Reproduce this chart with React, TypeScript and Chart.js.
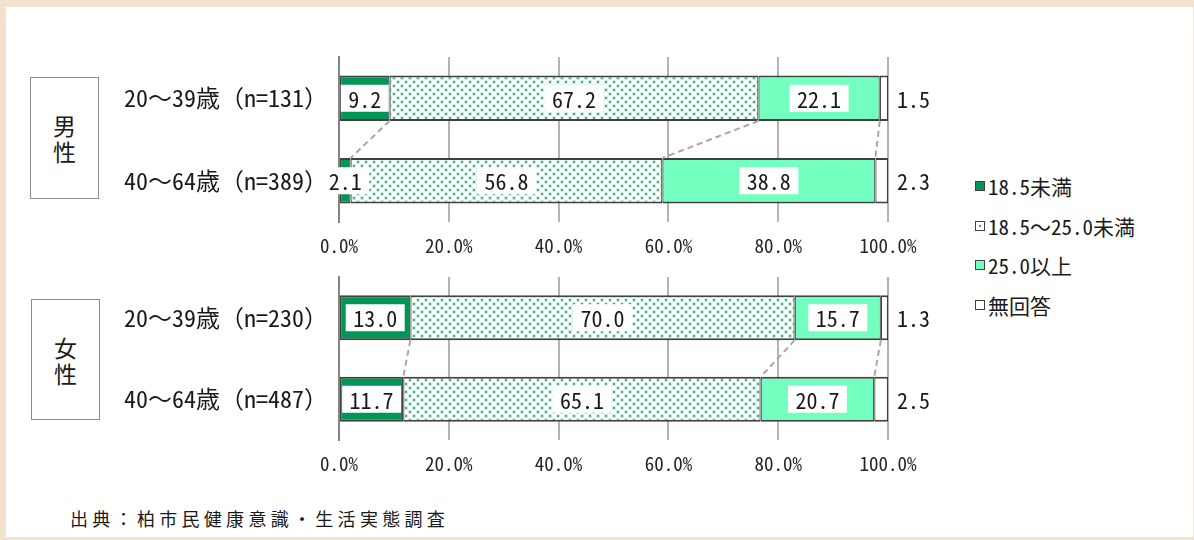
import React, { useEffect, useRef } from 'react';
import { Chart, registerables } from 'chart.js';

Chart.register(...registerables);

// ---- data -------------------------------------------------------------
const SERIES_NAMES = ['18.5未満', '18.5〜25.0未満', '25.0以上', '無回答'];

const MALE_AGES = ['20〜39歳（n=131）', '40〜64歳（n=389）'];
const MALE_UNDER = [9.2, 2.1];
const MALE_NORMAL = [67.2, 56.8];
const MALE_OVER = [22.1, 38.8];
const MALE_NO_ANSWER = [1.5, 2.3];

const FEMALE_AGES = ['20〜39歳（n=230）', '40〜64歳（n=487）'];
const FEMALE_UNDER = [13.0, 11.7];
const FEMALE_NORMAL = [70.0, 65.1];
const FEMALE_OVER = [15.7, 20.7];
const FEMALE_NO_ANSWER = [1.3, 2.5];

const X_TICKS = [0, 20, 40, 60, 80, 100];

const SOURCE_NOTE = '出典：柏市民健康意識・生活実態調査';

// ---- styling ----------------------------------------------------------
const FONT = "'Noto Sans Mono CJK JP', 'Noto Sans CJK JP', sans-serif";
const BEIGE = '#F1E3CD';
const DARK_GREEN = '#009656';
const MINT = '#72FFC0';
const BAR_EDGE = '#404040';
const TEXT = '#1a1a1a';

function dotPattern(): CanvasPattern | string {
  const c = document.createElement('canvas');
  c.width = 8;
  c.height = 8;
  const g = c.getContext('2d');
  if (!g) return '#d8f3e6';
  g.fillStyle = '#ffffff';
  g.fillRect(0, 0, 8, 8);
  const dot = (x: number, y: number) => {
    g.fillStyle = 'rgba(60,175,130,0.22)';
    g.fillRect(x - 1, y - 1, 4, 4);
    g.fillStyle = 'rgba(40,165,115,0.85)';
    g.fillRect(x, y, 2, 2);
  };
  dot(1, 1);
  dot(5, 5);
  return g.createPattern(c, 'repeat') || '#d8f3e6';
}

// dashed connectors between stacked bars + value labels
const segmentLabels = {
  id: 'segmentLabels',
  afterDatasetsDraw(chart: any) {
    const { ctx, chartArea } = chart;
    const n = chart.data.datasets.length;
    ctx.save();
    ctx.setLineDash([6, 4]);
    ctx.strokeStyle = '#a8a8a8';
    ctx.lineWidth = 2;
    for (let k = 0; k < n - 1; k++) {
      const meta = chart.getDatasetMeta(k);
      const a = meta.data[0];
      const b = meta.data[1];
      ctx.beginPath();
      ctx.moveTo(a.x, a.y + a.height / 2);
      ctx.lineTo(b.x, b.y - b.height / 2);
      ctx.stroke();
    }
    ctx.setLineDash([]);
    ctx.font = `22px ${FONT}`;
    ctx.textBaseline = 'middle';
    chart.data.datasets.forEach((ds: any, i: number) => {
      const meta = chart.getDatasetMeta(i);
      meta.data.forEach((bar: any, j: number) => {
        const txt = (ds.data[j] as number).toFixed(1);
        if (i === n - 1) {
          ctx.textAlign = 'left';
          ctx.fillStyle = TEXT;
          ctx.fillText(txt, chartArea.right + 9, bar.y + 1);
          return;
        }
        const cx = (bar.x + bar.base) / 2;
        const w = ctx.measureText(txt).width + 15;
        ctx.fillStyle = '#ffffff';
        ctx.fillRect(cx - w / 2, bar.y - 13.5, w, 27);
        ctx.textAlign = 'center';
        ctx.fillStyle = TEXT;
        ctx.fillText(txt, cx, bar.y + 1);
      });
    });
    ctx.restore();
  },
};

function StackedChart(props: {
  ages: string[];
  series: number[][];
  top: number;
  height: number;
  padTop: number;
  axisHeight: number;
}) {
  const ref = useRef<HTMLCanvasElement | null>(null);
  useEffect(() => {
    if (!ref.current) return;
    const fills = [DARK_GREEN, dotPattern(), MINT, '#ffffff'];
    const chart = new Chart(ref.current, {
      type: 'bar',
      data: {
        labels: props.ages,
        datasets: props.series.map((vals, i) => ({
          label: SERIES_NAMES[i],
          data: vals,
          backgroundColor: fills[i] as any,
          borderColor: BAR_EDGE,
          borderWidth: { top: 2, bottom: 2, left: 1.2, right: 1.2 },
          borderSkipped: false,
          barPercentage: 0.55,
          categoryPercentage: 1,
        })),
      },
      options: {
        indexAxis: 'y',
        animation: false,
        responsive: false,
        maintainAspectRatio: false,
        layout: { padding: { top: props.padTop, right: 72, left: 0, bottom: 0 } },
        plugins: { legend: { display: false }, tooltip: { enabled: false } },
        scales: {
          x: {
            stacked: true,
            min: 0,
            max: 100,
            afterBuildTicks: (scale: any) => {
              scale.ticks = X_TICKS.map((v) => ({ value: v }));
            },
            afterFit: (scale: any) => {
              scale.height = props.axisHeight;
              scale.paddingLeft = 0;
              scale.paddingRight = 0;
            },
            ticks: {
              padding: 12,
              color: '#262626',
              font: { family: FONT, size: 19 },
              callback: (v: any) => `${Number(v).toFixed(1)}%`,
              maxRotation: 0,
            },
            grid: { color: '#b3b3b3', lineWidth: 2, drawTicks: false },
            border: { display: false },
          },
          y: {
            stacked: true,
            afterFit: (scale: any) => {
              scale.width = 239;
              scale.paddingTop = 0;
              scale.paddingBottom = 0;
            },
            ticks: {
              padding: 11,
              color: TEXT,
              font: { family: FONT, size: 24 },
            },
            grid: { display: false, drawTicks: false },
            border: { display: true, color: '#858585', width: 2 },
          },
        },
      },
      plugins: [segmentLabels],
    });
    return () => chart.destroy();
  }, []);
  return (
    <canvas
      ref={ref}
      width={860}
      height={props.height}
      style={{ position: 'absolute', left: 100, top: props.top, width: 860, height: props.height }}
    />
  );
}

function GroupBox(props: { text: string; left: number; top: number; width: number; height: number }) {
  return (
    <div
      style={{
        position: 'absolute',
        left: props.left,
        top: props.top,
        width: props.width,
        height: props.height,
        border: '1.5px solid #8c8c8c',
        boxSizing: 'border-box',
        display: 'flex',
        flexDirection: 'column',
        alignItems: 'center',
        justifyContent: 'center',
        fontFamily: FONT,
        fontSize: 23,
        lineHeight: '26px',
        color: TEXT,
      }}
    >
      {props.text.split('').map((ch, i) => (
        <span key={i}>{ch}</span>
      ))}
    </div>
  );
}

const SWATCHES = [
  { background: DARK_GREEN },
  {
    backgroundColor: '#ffffff',
    backgroundImage: 'radial-gradient(circle, #2aa876 1.2px, transparent 1.6px)',
    backgroundSize: '8px 8px',
    backgroundPosition: 'center',
  },
  { background: MINT },
  { background: '#ffffff' },
];

export default function App() {
  return (
    <div
      style={{
        position: 'fixed',
        left: 0,
        top: 0,
        width: 1194,
        height: 540,
        background: BEIGE,
        overflow: 'hidden',
      }}
    >
      <div style={{ position: 'absolute', left: 6, top: 7, width: 1187, height: 530, background: '#ffffff' }} />

      <GroupBox text="男性" left={30} top={77} width={69} height={122} />
      <GroupBox text="女性" left={31} top={299} width={69} height={121} />

      <StackedChart
        ages={MALE_AGES}
        series={[MALE_UNDER, MALE_NORMAL, MALE_OVER, MALE_NO_ANSWER]}
        top={40}
        height={230}
        padTop={17}
        axisHeight={48}
      />
      <StackedChart
        ages={FEMALE_AGES}
        series={[FEMALE_UNDER, FEMALE_NORMAL, FEMALE_OVER, FEMALE_NO_ANSWER]}
        top={270}
        height={230}
        padTop={7}
        axisHeight={60}
      />

      {SERIES_NAMES.map((name, i) => (
        <div
          key={name}
          style={{
            position: 'absolute',
            left: 975,
            top: 172 + i * 39.7,
            height: 28,
            display: 'flex',
            alignItems: 'center',
            fontFamily: FONT,
            fontSize: 21,
            color: TEXT,
            whiteSpace: 'nowrap',
          }}
        >
          <span
            style={{
              display: 'inline-block',
              width: 10,
              height: 10,
              boxSizing: 'border-box',
              border: '1.5px solid #404040',
              marginRight: 3,
              ...SWATCHES[i],
            }}
          />
          {name}
        </div>
      ))}

      <div
        style={{
          position: 'absolute',
          left: 70,
          top: 505,
          height: 26,
          lineHeight: '26px',
          fontFamily: "'Noto Sans CJK JP', sans-serif",
          fontSize: 18,
          letterSpacing: 4.3,
          color: TEXT,
          whiteSpace: 'nowrap',
        }}
      >
        {SOURCE_NOTE}
      </div>
    </div>
  );
}
